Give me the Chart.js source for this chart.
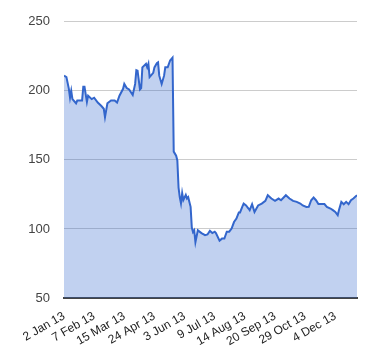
<!DOCTYPE html>
<html>
<head>
<meta charset="utf-8">
<script src="https://cdn.jsdelivr.net/npm/chart.js@4"></script>
<style>
  html, body { margin: 0; padding: 0; background: #fff; }
  #wrap { width: 380px; height: 360px; }
</style>
</head>
<body>
<div id="wrap"><canvas id="render" width="380" height="360"></canvas></div>
<script>
// trading day index (0 = 2 Jan 13) and closing price
const days = [0, 2, 4, 5, 6, 7, 10, 11, 15, 16, 17, 19, 20, 23, 25, 28, 31, 33, 34, 36,
  39, 42, 44, 46, 49, 50, 52, 54, 57, 59, 60, 61, 63, 64, 65, 68, 69, 70, 71, 74,
  75, 77, 78, 79, 81, 83, 84, 86, 88, 90, 91, 93, 94, 95, 96, 97, 98, 99, 101, 102,
  103, 105, 106, 107, 108, 109, 111, 114, 117, 119, 121, 123, 125, 126, 129, 131, 133, 135, 137, 139,
  141, 143, 145, 146, 148, 149, 151, 153, 154, 156, 158, 161, 164, 167, 169, 172, 175, 178, 180, 184,
  187, 190, 193, 196, 198, 201, 203, 205, 207, 209, 211, 214, 216, 218, 221, 223, 225, 227, 228, 230,
  232, 234, 236, 238, 240, 243];
const prices = [211, 210, 201.6, 195, 200, 194, 191, 193, 193, 203, 203, 192, 196.5, 194, 195, 191.5, 189, 187, 181, 191,
  193, 193, 191.5, 196.5, 201.5, 205, 202, 201, 197, 205, 215, 214.6, 201, 202, 217, 219.6, 217, 219.6, 210, 213,
  217, 220, 220.6, 211, 205, 211, 217, 217, 222, 224, 156, 153, 149.6, 130, 123, 118.6, 126, 121, 124.6, 122,
  123, 116, 101, 97.7, 99, 90.5, 99, 97, 95.5, 96, 98.6, 97, 98, 97, 91.5, 93, 93, 98, 98, 100.3,
  105, 107.5, 112, 112, 116.4, 118.4, 117, 114.8, 113.6, 117.9, 112.3, 117, 118.4, 120.3, 124.4, 122, 120.3, 122, 120.8, 124.4,
  122, 120.3, 119.6, 118.4, 117, 115.9, 116, 120.8, 122.7, 120.8, 118, 118, 118, 116, 114.8, 113.6, 112.3, 110, 113.6, 119.6,
  117.9, 119.6, 117.9, 120.8, 122, 124.4];

const tickDays = [0, 25, 50, 75, 100, 125, 150, 175, 200, 225];
const tickLabels = ['2 Jan 13', '7 Feb 13', '15 Mar 13', '24 Apr 13', '3 Jun 13',
  '9 Jul 13', '14 Aug 13', '20 Sep 13', '29 Oct 13', '4 Dec 13'];
const yTicks = [50, 100, 150, 200, 250];

const points = days.map((d, i) => ({ x: d, y: prices[i] }));

const ctx = document.getElementById('render');
const chart = new Chart(ctx, {
  type: 'line',
  data: {
    datasets: [{
      data: points,
      borderColor: '#3366cc',
      backgroundColor: 'rgba(51,102,204,0.3)',
      borderWidth: 2,
      pointRadius: 0,
      tension: 0,
      fill: 'start'
    }]
  },
  options: {
    responsive: false,
    animation: false,
    layout: { padding: { top: 21, right: 23, left: 0, bottom: 0 } },
    plugins: { legend: { display: false }, tooltip: { enabled: false } },
    scales: {
      x: {
        type: 'linear',
        min: 0,
        max: 243,
        afterBuildTicks: scale => { scale.ticks = tickDays.map(v => ({ value: v })); },
        afterFit: scale => { scale.height = 62; },
        grid: { display: false, drawTicks: false },
        border: { display: true, color: '#444', width: 2 },
        ticks: {
          autoSkip: false,
          minRotation: 30,
          maxRotation: 30,
          padding: 11,
          color: '#222',
          font: { family: 'Liberation Sans, Arial', size: 12 },
          callback: function(value) {
            const k = tickDays.indexOf(value);
            return k >= 0 ? tickLabels[k] : '';
          }
        }
      },
      y: {
        min: 50,
        max: 250,
        afterBuildTicks: scale => { scale.ticks = yTicks.map(v => ({ value: v })); },
        afterFit: scale => { scale.width = 64; },
        border: { display: false },
        grid: {
          drawTicks: false,
          color: ctx => ctx.tick && ctx.tick.value === 50 ? 'rgba(0,0,0,0)' : '#cccccc',
          lineWidth: 1
        },
        ticks: {
          padding: 14,
          color: '#444',
          font: { family: 'Liberation Sans, Arial', size: 13 }
        }
      }
    }
  }
});
</script>
</body>
</html>
